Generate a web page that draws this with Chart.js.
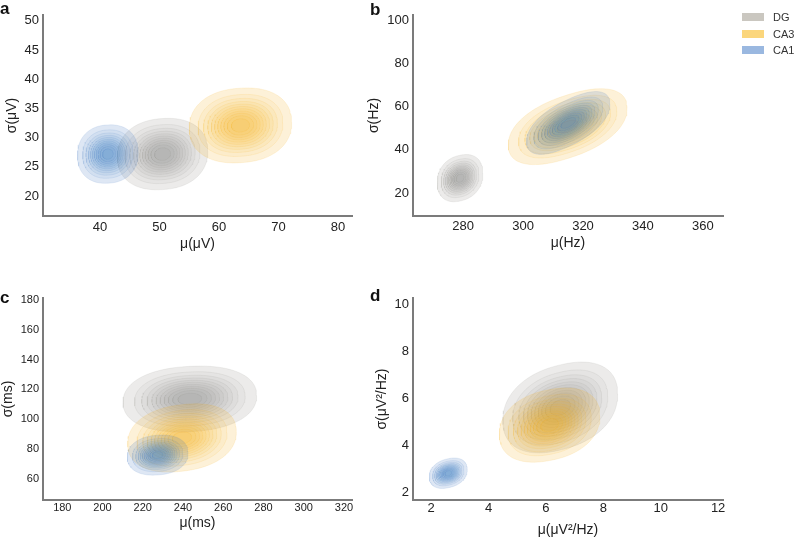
<!DOCTYPE html>
<html>
<head>
<meta charset="utf-8">
<script src="https://cdn.jsdelivr.net/npm/chart.js@4.4.1/dist/chart.umd.min.js"></script>
<style>
body { margin: 0; background: #fff; width: 796px; height: 543px; position: relative; overflow: hidden; font-family: 'Liberation Sans', Arial, sans-serif; }
canvas { position: absolute; }
.tag { position: absolute; font-weight: bold; font-size: 17px; color: #111; line-height: 17px; }
#legend { position: absolute; left: 742px; top: 9px; font-size: 11px; color: #333; }
.lg { display: flex; align-items: center; height: 16.5px; }
.lg i { display: inline-block; width: 22px; height: 8px; margin-right: 9px; }
</style>
</head>
<body>
<canvas id="chartA" width="360" height="270" style="left:0;top:0"></canvas>
<canvas id="chartB" width="436" height="270" style="left:360px;top:0"></canvas>
<canvas id="chartC" width="360" height="273" style="left:0;top:270px"></canvas>
<canvas id="chartD" width="436" height="273" style="left:360px;top:270px"></canvas>
<div class="tag" style="left:0;top:0">a</div>
<div class="tag" style="left:370px;top:1px">b</div>
<div class="tag" style="left:0;top:289px">c</div>
<div class="tag" style="left:370px;top:287px">d</div>
<div id="legend"></div>
<script>
// groups (same order in every panel)
const groups = ['DG', 'CA3', 'CA1'];

// a: amplitude
const aRangeX = [30.4, 82.35];
const aRangeY = [16.6, 51.0];
const aTicksX = [40, 50, 60, 70, 80];
const aTicksY = [20, 25, 30, 35, 40, 45, 50];
const aMeanX = [50.5, 63.6, 41.3];
const aMeanY = [27.2, 32.1, 27.2];
const aSpreadX = [7.6, 8.6, 5.1];
const aSpreadY = [6.1, 6.4, 5.0];
const aCorr = [0.08, 0.08, 0.05];

// b: frequency
const bRangeX = [263.3, 366.7];
const bRangeY = [9.4, 102.3];
const bTicksX = [280, 300, 320, 340, 360];
const bTicksY = [20, 40, 60, 80, 100];
const bMeanX = [279.0, 314.9, 315.1];
const bMeanY = [26.9, 50.7, 52.4];
const bSpreadX = [7.6, 19.8, 13.9];
const bSpreadY = [10.8, 17.0, 14.0];
const bCorr = [0.2, 0.5, 0.62];

// c: duration
const cRangeX = [170.4, 324.0];
const cRangeY = [45.9, 181.3];
const cTicksX = [180, 200, 220, 240, 260, 280, 300, 320];
const cTicksY = [60, 80, 100, 120, 140, 160, 180];
const cMeanX = [243.4, 239.5, 227.4];
const cMeanY = [113.6, 87.5, 76.0];
const cSpreadX = [33.2, 27.0, 15.1];
const cSpreadY = [22.0, 22.7, 13.4];
const cCorr = [0.1, 0.18, 0.1];

// d: power
const dRangeX = [1.37, 12.17];
const dRangeY = [1.66, 10.26];
const dTicksX = [2, 4, 6, 8, 10, 12];
const dTicksY = [2, 4, 6, 8, 10];
const dMeanX = [6.5, 6.13, 2.6];
const dMeanY = [5.6, 4.85, 2.8];
const dSpreadX = [2.0, 1.75, 0.66];
const dSpreadY = [1.9, 1.56, 0.64];
const dCorr = [0.3, 0.25, 0.25];

const baseColors = [[140, 137, 128], [244, 172, 22], [60, 115, 192]];
const legendColors = ['#cac7c0', '#fbd67c', '#9ab8e0'];

Chart.defaults.font.family = "'Liberation Sans', Arial, sans-serif";
Chart.defaults.color = '#222';

const LEVELS = 11;
const LOW = 0.06;

const spow = (c, e) => Math.sign(c) * Math.pow(Math.abs(c), e);

// nested density contours of one kde blob, outer first
function blobSets(mx, my, sx, sy, rho) {
    const sets = [];
    const rOuter = Math.sqrt(-2 * Math.log(LOW));
    groups.forEach((g, gi) => {
        const [r0, g0, b0] = baseColors[gi];
        for (let k = 0; k < LEVELS; k++) {
            const dens = LOW + k * (0.94 / LEVELS);
            const r = Math.sqrt(-2 * Math.log(dens)) / rOuter;
            // outer contours are a little fuller than a pure ellipse
            const e = 2 / (2 + 0.25 * (1 - k / (LEVELS - 1)));
            const pts = [];
            for (let i = 0; i <= 96; i++) {
                const t = i / 96 * 2 * Math.PI;
                const u = spow(Math.cos(t), e), v = spow(Math.sin(t), e);
                pts.push({
                    x: mx[gi] + r * sx[gi] * u,
                    y: my[gi] + r * sy[gi] * (rho[gi] * u + Math.sqrt(1 - rho[gi] * rho[gi]) * v)
                });
            }
            sets.push({
                label: g,
                data: pts,
                showLine: true,
                fill: 'shape',
                backgroundColor: `rgba(${r0},${g0},${b0},${k === 0 ? 0.17 : 0.075})`,
                borderColor: `rgba(${r0},${g0},${b0},0.14)`,
                borderWidth: 0.8,
                pointRadius: 0,
                tension: 0
            });
        }
    });
    // first dataset is drawn on top
    return sets.reverse();
}

function makePanel(id, p) {
    new Chart(document.getElementById(id), {
        type: 'scatter',
        data: { datasets: blobSets(p.mx, p.my, p.sx, p.sy, p.rho) },
        options: {
            responsive: false,
            animation: false,
            events: [],
            layout: { padding: { left: 0, top: p.top, right: p.right, bottom: 0 } },
            plugins: { legend: { display: false }, tooltip: { enabled: false } },
            scales: {
                x: {
                    type: 'linear', min: p.rx[0], max: p.rx[1],
                    afterFit: s => { s.height = p.h; },
                    afterBuildTicks: s => { s.ticks = p.tx.map(v => ({ value: v })); },
                    grid: { display: false, drawTicks: false },
                    border: { display: true, color: '#7b7b7b', width: 2 },
                    ticks: { padding: p.xPad, font: { size: p.tickSize }, color: '#222' },
                    title: { display: true, text: p.xTitle, font: { size: p.titleSize }, color: '#222', padding: { top: 0, bottom: p.xTitlePad } }
                },
                y: {
                    type: 'linear', min: p.ry[0], max: p.ry[1],
                    afterFit: s => { s.width = p.w; },
                    afterBuildTicks: s => { s.ticks = p.ty.map(v => ({ value: v })); },
                    grid: { display: false, drawTicks: false },
                    border: { display: true, color: '#7b7b7b', width: 2 },
                    ticks: { padding: 4, font: { size: p.tickSize }, color: '#222' },
                    title: { display: true, text: p.yTitle, font: { size: p.titleSize }, color: '#222', padding: { top: p.yTitlePad, bottom: 0 } }
                }
            }
        }
    });
}

makePanel('chartA', { mx: aMeanX, my: aMeanY, sx: aSpreadX, sy: aSpreadY, rho: aCorr,
    rx: aRangeX, ry: aRangeY, tx: aTicksX, ty: aTicksY, top: 15, right: 8, w: 43, h: 54,
    xPad: 4, tickSize: 13, titleSize: 14, xTitle: 'μ(μV)', yTitle: 'σ(μV)', xTitlePad: 17.6, yTitlePad: 3.6 });
makePanel('chartB', { mx: bMeanX, my: bMeanY, sx: bSpreadX, sy: bSpreadY, rho: bCorr,
    rx: bRangeX, ry: bRangeY, tx: bTicksX, ty: bTicksY, top: 15, right: 73, w: 53, h: 54,
    xPad: 2.2, tickSize: 13, titleSize: 14, xTitle: 'μ(Hz)', yTitle: 'σ(Hz)', xTitlePad: 18.6, yTitlePad: 5.6 });
makePanel('chartC', { mx: cMeanX, my: cMeanY, sx: cSpreadX, sy: cSpreadY, rho: cCorr,
    rx: cRangeX, ry: cRangeY, tx: cTicksX, ty: cTicksY, top: 28, right: 8, w: 43, h: 43,
    xPad: 1.7, tickSize: 11, titleSize: 14, xTitle: 'μ(ms)', yTitle: 'σ(ms)', xTitlePad: 11.6, yTitlePad: 0 });
makePanel('chartD', { mx: dMeanX, my: dMeanY, sx: dSpreadX, sy: dSpreadY, rho: dCorr,
    rx: dRangeX, ry: dRangeY, tx: dTicksX, ty: dTicksY, top: 28, right: 73, w: 53, h: 43,
    xPad: 0.5, tickSize: 13, titleSize: 14, xTitle: 'μ(μV²/Hz)', yTitle: 'σ(μV²/Hz)', xTitlePad: 4.6, yTitlePad: 13.6 });

// legend
document.getElementById('legend').innerHTML = groups.map((g, i) =>
    `<div class="lg"><i style="background:${legendColors[i]}"></i>${g}</div>`).join('');
</script>
</body>
</html>
